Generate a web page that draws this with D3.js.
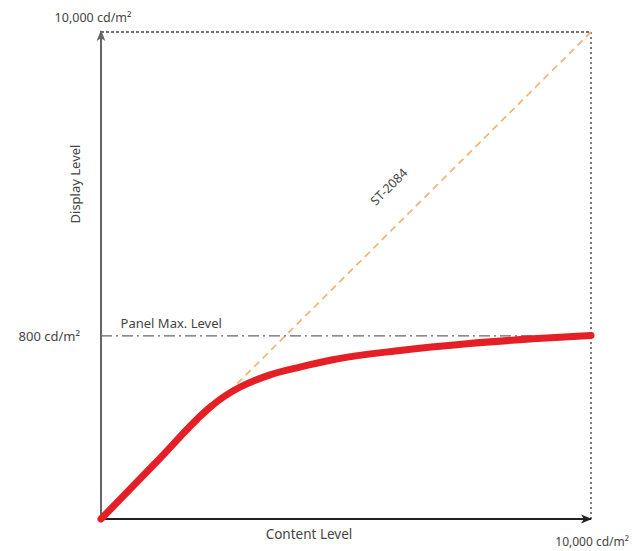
<!DOCTYPE html>
<html>
<head>
<meta charset="utf-8">
<script src="https://cdn.jsdelivr.net/npm/d3@7"></script>
<style>
  html, body { margin: 0; padding: 0; background: #fff; }
  svg { display: block; }
  text { font-family: "Noto Sans", "Open Sans", sans-serif; fill: #444; white-space: pre; }
</style>
</head>
<body>
<svg id="chart" width="634" height="551"></svg>
<script>
// ---- data (content / display level, % of 10,000 cd/m² axis span) ----
const curveContent = [0, 11.4, 22.2, 24.9, 28.4, 34.5, 40.6, 47.3, 61.0, 74.7, 88.2, 100];
const curveDisplay = [0, 11.8, 22.9, 25.0, 27.1, 29.6, 31.2, 32.7, 34.6, 36.0, 37.0, 37.7];
const st2084Content = [0, 100];
const st2084Display = [0, 100];
const panelMaxLevel = 37.6;          // 800 cd/m² position
const axisMax = 100;                 // 10,000 cd/m²
const tickLabels = { max: "10,000 cd/m²", panel: "800 cd/m²" };
const axisTitles = { x: "Content Level", y: "Display Level" };
const lineLabels = { st: "ST-2084", panel: "Panel Max. Level" };

const svg = d3.select("#chart");
const x = d3.scaleLinear().domain([0, axisMax]).range([101, 591]);
const y = d3.scaleLinear().domain([0, axisMax]).range([519, 32]);

const defs = svg.append("defs");
function arrow(id, color) {
  defs.append("marker").attr("id", id)
    .attr("viewBox", "0 0 10 10").attr("refX", 9).attr("refY", 5)
    .attr("markerWidth", 5.5).attr("markerHeight", 5.5).attr("orient", "auto")
    .append("path").attr("d", "M0,1 L10,5 L0,9 L2.5,5 Z").attr("fill", color);
}
arrow("arrGray", "#666");
arrow("arrDark", "#222");

// top and right dotted frame
svg.append("line")
  .attr("x1", x(0)).attr("y1", y(axisMax)).attr("x2", x(axisMax)).attr("y2", y(axisMax))
  .attr("stroke", "#444").attr("stroke-width", 1.4).attr("stroke-dasharray", "3,2");
svg.append("line")
  .attr("x1", x(axisMax)).attr("y1", y(axisMax)).attr("x2", x(axisMax)).attr("y2", y(0))
  .attr("stroke", "#444").attr("stroke-width", 1.4).attr("stroke-dasharray", "2,3");

// ST-2084 diagonal
svg.append("line")
  .attr("x1", x(st2084Content[0])).attr("y1", y(st2084Display[0]))
  .attr("x2", x(st2084Content[1])).attr("y2", y(st2084Display[1]))
  .attr("stroke", "#f2b57a").attr("stroke-width", 1.8).attr("stroke-dasharray", "7,5");

// Panel max level dash-dot line
svg.append("line")
  .attr("x1", x(0)).attr("y1", y(panelMaxLevel)).attr("x2", x(axisMax)).attr("y2", y(panelMaxLevel))
  .attr("stroke", "#666").attr("stroke-width", 1.3).attr("stroke-dasharray", "11,4,2,4");

// y axis (gray) with arrow
svg.append("line")
  .attr("x1", x(0)).attr("y1", y(0)).attr("x2", x(0)).attr("y2", y(axisMax) - 1)
  .attr("stroke", "#666").attr("stroke-width", 2).attr("marker-end", "url(#arrGray)");

// x axis (dark) with arrow
svg.append("line")
  .attr("x1", x(0)).attr("y1", y(0)).attr("x2", x(axisMax)).attr("y2", y(0))
  .attr("stroke", "#222").attr("stroke-width", 2).attr("marker-end", "url(#arrDark)");

// red tone-mapping curve
const pts = curveContent.map((c, i) => [c, curveDisplay[i]]);
svg.append("path").datum(pts)
  .attr("d", d3.line().x(d => x(d[0])).y(d => y(d[1])).curve(d3.curveMonotoneX))
  .attr("fill", "none").attr("stroke", "#e41f26").attr("stroke-width", 7)
  .attr("stroke-linecap", "round").attr("stroke-linejoin", "round");

// labels
svg.append("text").attr("x", x(0) - 8).attr("y", y(axisMax) - 10)
  .attr("text-anchor", "middle").attr("font-size", 12.5).text(tickLabels.max);
svg.append("text").attr("x", x(0) - 21).attr("y", y(panelMaxLevel) + 5)
  .attr("text-anchor", "end").attr("font-size", 13).text(tickLabels.panel);
svg.append("text").attr("x", 629).attr("y", y(0) + 27)
  .attr("text-anchor", "end").attr("font-size", 12).text(tickLabels.max);
svg.append("text").attr("x", 309).attr("y", y(0) + 20)
  .attr("text-anchor", "middle").attr("font-size", 13.5).text(axisTitles.x);
svg.append("text").attr("transform", `translate(80,184) rotate(-90)`)
  .attr("text-anchor", "middle").attr("font-size", 13).text(axisTitles.y);
svg.append("text").attr("x", x(4)).attr("y", y(panelMaxLevel) - 8)
  .attr("font-size", 13).text(lineLabels.panel);
svg.append("text").attr("transform", `translate(392,190) rotate(-44.8)`)
  .attr("text-anchor", "middle").attr("font-size", 12.5).text(lineLabels.st);
</script>
</body>
</html>
